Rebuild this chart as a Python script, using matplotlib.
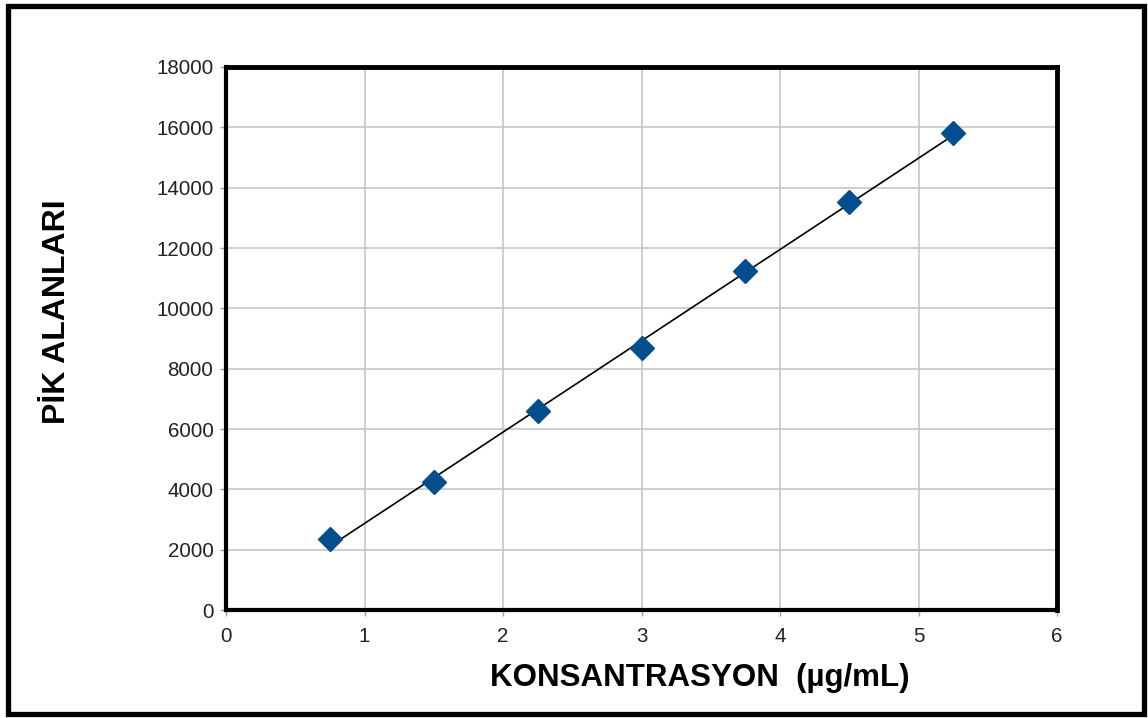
import numpy as np
import matplotlib
matplotlib.use("Agg")
import matplotlib.pyplot as plt
from matplotlib.patches import Rectangle

# Data
konsantrasyon = [0.75, 1.5, 2.25, 3.0, 3.75, 4.5, 5.25]
pik_alanlari = [2360, 4240, 6600, 8680, 11240, 13530, 15810]
x_ticks = [0, 1, 2, 3, 4, 5, 6]
y_ticks = [0, 2000, 4000, 6000, 8000, 10000, 12000, 14000, 16000, 18000]
x_label = "KONSANTRASYON  (µg/mL)"
y_label = "PİK ALANLARI"

plt.rcParams['font.family'] = ['Liberation Sans', 'DejaVu Sans']

W, H = 1148, 718
fig = plt.figure(figsize=(W/100, H/100), dpi=100)
ax = fig.add_axes([226/W, 1 - 610/H, (1057-226)/W, (610-67)/H])

# Trendline (linear fit of the data)
coef = np.polyfit(konsantrasyon, pik_alanlari, 1)
xf = np.array([min(konsantrasyon), max(konsantrasyon)])
ax.plot(xf, np.polyval(coef, xf), color='black', lw=1.2, zorder=3)

ax.plot(konsantrasyon, pik_alanlari, linestyle='none', marker='D', ms=12,
        color='#034E8F', markeredgecolor='#034E8F', zorder=4)

ax.set_xlim(0, 6)
ax.set_ylim(0, 18000)
ax.set_xticks(x_ticks)
ax.set_yticks(y_ticks)
ax.grid(True, color='#C6C6C6', lw=1.2)
ax.set_axisbelow(True)
ax.tick_params(axis='both', labelsize=14.8, color='#A0A0A0', length=4, width=1,
               labelcolor='#222222')
ax.tick_params(axis='x', pad=8)
ax.tick_params(axis='y', pad=5)

for s in ['top', 'right']:
    ax.spines[s].set_linewidth(3.5)
    ax.spines[s].set_color('black')
for s in ['left', 'bottom']:
    ax.spines[s].set_linewidth(3)
    ax.spines[s].set_color('black')

fig.text(700/W, 1 - 686/H, x_label, fontsize=22.5, fontweight='bold',
         ha='center', va='baseline')
fig.text(57/W, 1 - 312/H, y_label, fontsize=23, fontweight='bold',
         ha='center', va='center', rotation=90)

# Outer frame
fig.patches.append(Rectangle((7.5/W, 4/H), (1144-7.5)/W, 708.5/H,
                             transform=fig.transFigure, fill=False,
                             edgecolor='black', lw=3.8))

fig.savefig("out.png", dpi=100)
